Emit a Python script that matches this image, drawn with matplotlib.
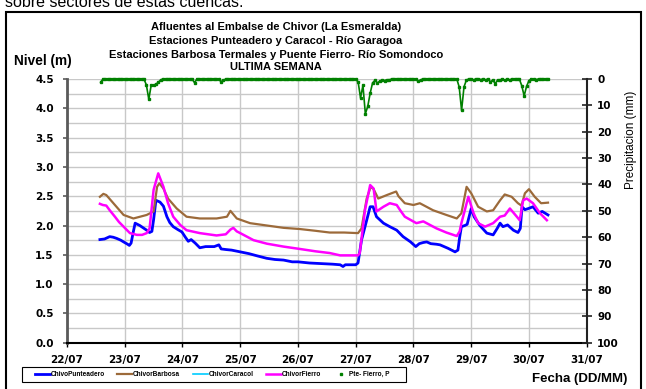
import numpy as np
import matplotlib
matplotlib.use("Agg")
import matplotlib.pyplot as plt
from matplotlib.lines import Line2D
from matplotlib.patches import Rectangle
from matplotlib.ticker import MultipleLocator

# ---- data -------------------------------------------------------------
date_labels = ["22/07", "23/07", "24/07", "25/07", "26/07",
               "27/07", "28/07", "29/07", "30/07", "31/07"]

# level series: time in days after 22/07 00:00, level in metres
punteadero_t = [0.57, 0.65, 0.74, 0.80, 0.86, 0.93, 0.98, 1.05, 1.08, 1.11,
                1.15, 1.18, 1.26, 1.32, 1.38, 1.43, 1.47, 1.50, 1.54, 1.61,
                1.67, 1.73, 1.78, 1.84, 1.92, 1.99, 2.05, 2.10, 2.15, 2.22,
                2.30, 2.40, 2.55, 2.63, 2.67, 2.75, 2.85, 3.00, 3.15, 3.30,
                3.46, 3.60, 3.75, 3.90, 4.00, 4.20, 4.40, 4.60, 4.73, 4.78,
                4.82, 5.00, 5.04, 5.10, 5.19, 5.25, 5.30, 5.36, 5.48, 5.59,
                5.71, 5.82, 5.95, 6.04, 6.10, 6.17, 6.23, 6.30, 6.40, 6.46,
                6.60, 6.72, 6.77, 6.80, 6.83, 6.89, 6.93, 7.00, 7.05, 7.15,
                7.27, 7.38, 7.45, 7.50, 7.55, 7.63, 7.73, 7.81, 7.85, 7.88,
                7.93, 7.99, 8.07, 8.16, 8.23, 8.33]
punteadero_v = [1.76, 1.77, 1.81, 1.80, 1.78, 1.75, 1.72, 1.68, 1.66, 1.70,
                1.90, 2.04, 2.00, 1.96, 1.92, 1.88, 1.90, 2.10, 2.43, 2.40,
                2.33, 2.15, 2.05, 1.98, 1.93, 1.89, 1.80, 1.73, 1.76, 1.70,
                1.62, 1.64, 1.64, 1.67, 1.60, 1.59, 1.58, 1.55, 1.52, 1.48,
                1.44, 1.42, 1.41, 1.38, 1.38, 1.36, 1.35, 1.34, 1.33, 1.30,
                1.33, 1.33, 1.36, 1.75, 2.09, 2.32, 2.32, 2.15, 2.04, 1.98,
                1.92, 1.81, 1.72, 1.64, 1.69, 1.71, 1.72, 1.69, 1.68, 1.67,
                1.61, 1.55, 1.58, 1.80, 1.98, 2.00, 2.02, 2.29, 2.15, 2.00,
                1.87, 1.84, 1.95, 2.04, 1.98, 2.01, 1.92, 1.88, 1.95, 2.32,
                2.27, 2.29, 2.32, 2.21, 2.24, 2.18]

barbosa_t = [0.57, 0.63, 0.68, 0.83, 0.98, 1.15, 1.38, 1.50, 1.56, 1.60,
             1.67, 1.75, 1.90, 2.07, 2.30, 2.59, 2.77, 2.83, 2.94, 3.17,
             3.46, 3.75, 4.03, 4.30, 4.55, 4.80, 5.04, 5.10, 5.19, 5.26,
             5.31, 5.39, 5.54, 5.62, 5.70, 5.74, 5.85, 6.00, 6.11, 6.34,
             6.57, 6.75, 6.83, 6.92, 7.00, 7.12, 7.27, 7.38, 7.50, 7.58,
             7.70, 7.81, 7.87, 7.93, 8.00, 8.10, 8.21, 8.33]
barbosa_v = [2.49, 2.54, 2.52, 2.35, 2.18, 2.12, 2.18, 2.24, 2.66, 2.72,
             2.63, 2.46, 2.29, 2.15, 2.12, 2.12, 2.15, 2.25, 2.12, 2.04,
             2.00, 1.96, 1.94, 1.91, 1.88, 1.88, 1.87, 1.95, 2.46, 2.66,
             2.62, 2.46, 2.52, 2.55, 2.58, 2.50, 2.38, 2.35, 2.38, 2.26,
             2.18, 2.12, 2.21, 2.66, 2.55, 2.32, 2.24, 2.26, 2.43, 2.53,
             2.49, 2.38, 2.34, 2.55, 2.62, 2.49, 2.38, 2.39]

# Caracol station reported no data this week (legend entry only)
caracol_t = []
caracol_v = []

fierro_t = [0.57, 0.62, 0.68, 0.74, 0.83, 0.90, 0.98, 1.09, 1.21, 1.30,
            1.38, 1.43, 1.50, 1.58, 1.67, 1.75, 1.84, 1.96, 2.07, 2.30,
            2.59, 2.75, 2.83, 2.88, 2.94, 3.00, 3.23, 3.46, 3.75, 4.03,
            4.30, 4.55, 4.73, 5.04, 5.07, 5.16, 5.25, 5.31, 5.36, 5.48,
            5.59, 5.71, 5.77, 5.85, 6.05, 6.17, 6.40, 6.57, 6.75, 6.80,
            6.83, 6.95, 7.04, 7.12, 7.24, 7.38, 7.50, 7.58, 7.67, 7.79,
            7.84, 7.90, 7.96, 8.07, 8.19, 8.31]
fierro_v = [2.37, 2.35, 2.34, 2.26, 2.15, 2.06, 1.98, 1.87, 1.84, 1.84,
            1.87, 1.95, 2.61, 2.89, 2.66, 2.38, 2.15, 2.01, 1.92, 1.87,
            1.83, 1.85, 1.93, 1.96, 1.90, 1.87, 1.75, 1.69, 1.64, 1.60,
            1.56, 1.53, 1.49, 1.49, 1.53, 2.26, 2.69, 2.63, 2.24, 2.32,
            2.38, 2.35, 2.26, 2.15, 2.04, 2.07, 1.95, 1.88, 1.82, 1.90,
            2.04, 2.49, 2.21, 2.04, 1.98, 2.04, 2.15, 2.17, 2.29, 2.15,
            2.09, 2.43, 2.46, 2.38, 2.21, 2.09]

# hourly precipitation at Puente Fierro (mm), first reading 22/07 14:00
precip_start_day = 14 / 24
precip_mm = [
    1.2, 0, 0, 0, 0, 0, 0, 0, 0, 0, 0, 0, 0, 0, 0, 0, 0, 0, 0, 2.3, 7.7, 2.3, 2.4, 2.0,
    1.2, 0.3, 0, 0, 0, 0, 0, 0, 0, 0, 0, 0, 0, 0, 0, 1.4, 0, 0, 0, 0, 0, 0, 0, 0,
    0, 0, 1.0, 0.5, 0, 0, 0, 0, 0, 0, 0, 0, 0, 0, 0, 0, 0, 0, 0, 0, 0, 0, 0, 0,
    0, 0, 0, 0, 0, 0, 0, 0, 0, 0, 0, 0, 0, 0, 0, 0, 0, 0, 0, 0, 0, 0, 0, 0,
    0, 0, 0, 0, 0, 0, 0, 0, 0, 0, 0, 1.1, 7.2, 2.4, 13.2, 10.4, 5.4, 1.5, 0.5, 1.5, 0.8, 0.4, 0.6, 0.3,
    0.3, 0, 0, 0, 0, 0, 0, 0, 0, 0, 0, 0, 0.9, 0.3, 0, 0, 0, 0, 0, 0, 0, 0, 0, 0,
    0, 0, 0, 0, 0, 3.0, 11.9, 3.0, 0.4, 0, 0, 0.3, 0, 0, 0.2, 0, 0.3, 0, 1.1, 0.4, 1.8, 0.3, 0.4, 0,
    0.5, 0, 0.3, 0, 0, 0, 0, 2.5, 6.4, 2.8, 0.6, 0, 0, 0.2, 0, 0, 0, 0, 0,
]
precip_t = precip_start_day + np.arange(len(precip_mm)) / 24

# ---- styling ----------------------------------------------------------
C_PUNT = "#0000ff"
C_BARB = "#9c6a3a"
C_CARA = "#00ccff"
C_FIER = "#ff00ff"
C_PREC = "#008000"
GRID = "#c8c8c8"

W, H = 646, 389
fig = plt.figure(figsize=(W / 100, H / 100), dpi=100)

def fx(px):
    return px / W

def fy(py):
    return 1 - py / H

tick_font = dict(family="DejaVu Sans", weight="bold", size=7.5)
arial_b = dict(family="Liberation Sans", weight="bold")

ax = fig.add_axes([fx(67), fy(342.7), fx(586.7) - fx(67), fy(79) - fy(342.7)])
ax.set_xlim(0, 9)
ax.set_ylim(0, 4.5)
ax.set_xticks(range(len(date_labels)))
ax.set_xticklabels(date_labels, **tick_font)
ax.set_yticks(np.arange(0, 4.51, 0.5))
ax.set_yticklabels([f"{v:.1f}" for v in np.arange(0, 4.51, 0.5)], **tick_font)
ax.yaxis.set_minor_locator(MultipleLocator(0.25))
ax.grid(axis="y", which="both", color=GRID, lw=1.0, zorder=0)
ax.grid(axis="x", which="major", color=GRID, lw=1.0, zorder=0)
ax.set_axisbelow(True)
ax.tick_params(axis="y", which="major", direction="out", length=3, width=1.2,
               color="#5a5a5a", pad=6.5)
ax.tick_params(axis="y", which="minor", length=0)
ax.tick_params(axis="x", which="major", direction="out", length=3, width=1.0,
               color="black", pad=5.5)
ax.spines["top"].set_visible(False)
ax.spines["right"].set_visible(False)
ax.spines["left"].set_color("#5a5a5a")
ax.spines["left"].set_linewidth(2.0)
ax.spines["bottom"].set_color("black")
ax.spines["bottom"].set_linewidth(1.5)

l_punt, = ax.plot(punteadero_t, punteadero_v, color=C_PUNT, lw=2.0, zorder=3)
l_barb, = ax.plot(barbosa_t, barbosa_v, color=C_BARB, lw=1.6, zorder=3)
l_cara, = ax.plot(caracol_t, caracol_v, color=C_CARA, lw=1.2, zorder=3)
l_fier, = ax.plot(fierro_t, fierro_v, color=C_FIER, lw=1.8, zorder=4)

ax2 = ax.twinx()
ax2.set_ylim(100, 0)
ax2.set_yticks(range(0, 101, 10))
ax2.set_yticklabels([str(v) for v in range(0, 101, 10)], **tick_font)
ax2.tick_params(axis="y", direction="inout", length=7, width=1.2,
                color="#222222", pad=4)
for side in ("top", "left", "bottom"):
    ax2.spines[side].set_visible(False)
ax2.spines["right"].set_color("#222222")
ax2.spines["right"].set_linewidth(1.5)
ax2.plot(precip_t, precip_mm, color=C_PREC, lw=1.2, marker="s", ms=2.0,
         mec=C_PREC, mfc=C_PREC, clip_on=False, zorder=5)

# ---- texts ------------------------------------------------------------
title_lines = ["Afluentes al Embalse de Chivor (La Esmeralda)",
               "Estaciones Punteadero y Caracol - Río Garagoa",
               "Estaciones Barbosa Termales y Puente Fierro- Río Somondoco",
               "ULTIMA SEMANA"]
for line, base in zip(title_lines, [30, 44, 57.5, 70.5]):
    fig.text(fx(276), fy(base), line, ha="center", va="baseline", size=8, **arial_b)

fig.text(fx(14), fy(65.5), "Nivel (m)", ha="left", va="baseline", size=9.8, **arial_b)
fig.text(fx(631), fy(140), "Precipitacion (mm)", rotation=90, ha="center",
         va="center", family="Liberation Sans", size=8.5)
fig.text(fx(580), fy(382), "Fecha (DD/MM)", ha="center", va="baseline", size=9.5, **arial_b)

fig.text(fx(5), fy(7.3), "sobre sectores de estas cuencas.", ha="left",
         va="baseline", family="Liberation Sans", size=11.5)

# outer frame of the panel
fig.patches.append(Rectangle((fx(6), -0.05), fx(641) - fx(6), fy(12.3) + 0.05,
                             transform=fig.transFigure, fill=False,
                             edgecolor="black", lw=1.5))

# ---- legend -----------------------------------------------------------
# box drawn separately so the horizontal margin can exceed the vertical one
fig.patches.append(Rectangle((fx(21.7), fy(381.7)), fx(406) - fx(21.7),
                             fy(367.3) - fy(381.7), transform=fig.transFigure,
                             fill=True, facecolor="white", edgecolor="black",
                             lw=0.8, zorder=1))
h_prec = Line2D([], [], ls="none", marker="s", ms=2.0, color=C_PREC)
leg = fig.legend([l_punt, l_barb, l_cara, l_fier, h_prec],
                 ["ChivoPunteadero", "ChivorBarbosa", "ChivorCaracol",
                  "ChivorFierro", "Pte- Fierro, P"],
                 loc="center left", ncol=5,
                 bbox_to_anchor=(fx(35), fy(374.5)),
                 prop=dict(family="Liberation Sans", weight="bold", size=4.7),
                 handlelength=2.3, handletextpad=0.12, columnspacing=1.9,
                 borderpad=0, borderaxespad=0, frameon=False)
leg.set_zorder(2)

fig.savefig("out.png", dpi=100)
